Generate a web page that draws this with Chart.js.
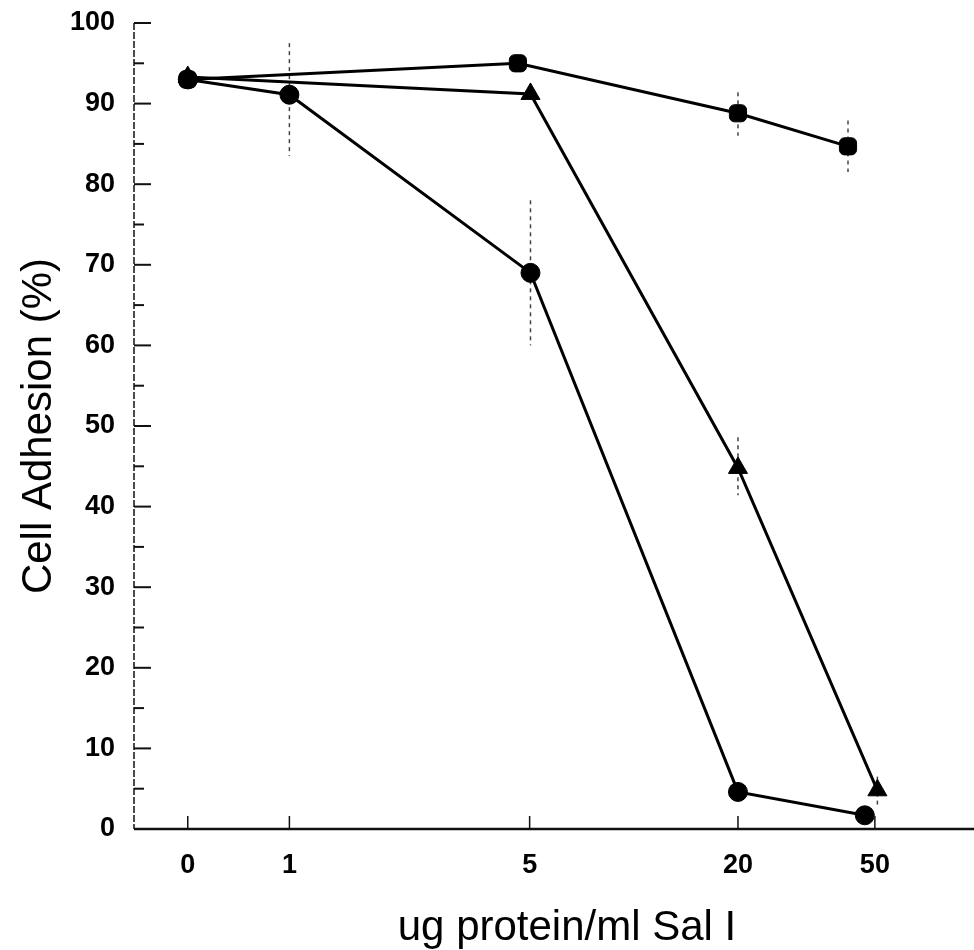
<!DOCTYPE html>
<html>
<head>
<meta charset="utf-8">
<title>Cell Adhesion vs Sal I</title>
<script src="https://cdn.jsdelivr.net/npm/chart.js@4.4.1/dist/chart.umd.min.js"></script>
<style>
    html, body { margin: 0; padding: 0; background: #fff; }
    #wrap { width: 974px; height: 950px; }
</style>
</head>
<body>
<div id="wrap"><canvas id="adhesion" width="974" height="950"></canvas></div>
<script>
// --- DATA ---
// dose labels and where each dose sits along the (hand-spaced) x axis, 0-100
const doseLabels = ['0', '1', '5', '20', '50'];
const doseTickPos = [6.4, 18.5, 47.1, 71.9, 88.2];

// squares: stays high
const squareX = [6.4, 45.7, 71.9, 85.0];
const squareY = [93, 95, 88.8, 84.7];
const squareLo = [null, null, 86, 81.5];
const squareHi = [null, null, 91.4, 87.9];

// triangles: drops after 5 ug/ml
const triangleX = [6.4, 47.2, 71.9, 88.5];
const triangleY = [93.3, 91.2, 44.8, 4.8];
const triangleLo = [null, null, 41.4, 3.0];
const triangleHi = [null, null, 48.6, 6.5];

// circles: drops from 1 ug/ml
const circleX = [6.4, 18.5, 47.2, 71.9, 87.0];
const circleY = [93, 91.1, 69, 4.6, 1.7];
const circleLo = [null, 83.5, 60, null, null];
const circleHi = [null, 97.5, 78, null, null];

const yMajor = 10;
const yMinor = 5;

const FONT = '"Liberation Sans", Arial, sans-serif';
const xTitle = 'ug protein/ml Sal I';

function toPoints(xs, ys) {
    return xs.map((x, i) => ({ x: x, y: ys[i] }));
}

function series(label, xs, ys, lo, hi, style, radius) {
    return {
        label: label,
        data: toPoints(xs, ys),
        errLo: lo,
        errHi: hi,
        showLine: true,
        borderColor: '#000',
        backgroundColor: '#000',
        borderWidth: 3,
        pointStyle: style,
        pointRadius: radius,
        pointBorderWidth: 1,
        pointBorderColor: '#000',
        pointBackgroundColor: '#000',
        tension: 0
    };
}

// ===========================================
// PLUGINS
// ===========================================

// dashed vertical error bars
const errorBars = {
    id: 'errorBars',
    beforeDatasetsDraw(chart) {
        const ctx = chart.ctx;
        const xs = chart.scales.x, ys = chart.scales.y;
        ctx.save();
        ctx.strokeStyle = '#444';
        ctx.lineWidth = 1.5;
        ctx.setLineDash([4, 4]);
        chart.data.datasets.forEach(ds => {
            ds.data.forEach((p, i) => {
                if (ds.errLo[i] == null) return;
                const px = xs.getPixelForValue(p.x);
                ctx.beginPath();
                ctx.moveTo(px, ys.getPixelForValue(ds.errHi[i]));
                ctx.lineTo(px, ys.getPixelForValue(ds.errLo[i]));
                ctx.stroke();
            });
        });
        ctx.restore();
    }
};

// axis lines with inward tick marks, plus the x title
const axisFrame = {
    id: 'axisFrame',
    afterDraw(chart) {
        const ctx = chart.ctx;
        const area = chart.chartArea;
        const xs = chart.scales.x, ys = chart.scales.y;
        ctx.save();
        ctx.strokeStyle = '#111';

        // y axis
        ctx.lineWidth = 1.5;
        ctx.setLineDash([7, 2]);
        ctx.beginPath();
        ctx.moveTo(area.left, area.top);
        ctx.lineTo(area.left, area.bottom);
        ctx.stroke();
        ctx.setLineDash([]);

        ctx.lineWidth = 2;
        for (let v = yMinor; v <= 100; v += yMinor) {
            const py = ys.getPixelForValue(v);
            const len = v % yMajor === 0 ? 17 : 10;
            ctx.beginPath();
            ctx.moveTo(area.left, py);
            ctx.lineTo(area.left + len, py);
            ctx.stroke();
        }

        // x axis
        ctx.lineWidth = 2.5;
        ctx.beginPath();
        ctx.moveTo(area.left, area.bottom);
        ctx.lineTo(area.right, area.bottom);
        ctx.stroke();

        ctx.lineWidth = 1.5;
        doseTickPos.forEach(v => {
            const px = xs.getPixelForValue(v);
            ctx.beginPath();
            ctx.moveTo(px, area.bottom);
            ctx.lineTo(px, area.bottom - 13);
            ctx.stroke();
        });

        // x title
        ctx.fillStyle = '#000';
        ctx.font = '42px ' + FONT;
        ctx.textAlign = 'center';
        ctx.textBaseline = 'alphabetic';
        ctx.fillText(xTitle, 567, 940);
        ctx.restore();
    }
};

// ===========================================
// CHART
// ===========================================

const tickFont = { family: FONT, size: 27, weight: 'bold' };

new Chart(document.getElementById('adhesion').getContext('2d'), {
    type: 'scatter',
    data: {
        datasets: [
            series('squares', squareX, squareY, squareLo, squareHi, 'rectRounded', 10),
            series('triangles', triangleX, triangleY, triangleLo, triangleHi, 'triangle', 11),
            series('circles', circleX, circleY, circleLo, circleHi, 'circle', 9.5)
        ]
    },
    options: {
        responsive: false,
        animation: false,
        layout: { autoPadding: false, padding: { top: 23, right: 0, bottom: 0, left: 0 } },
        plugins: {
            legend: { display: false },
            tooltip: { enabled: false }
        },
        scales: {
            x: {
                type: 'linear',
                min: 0,
                max: 100,
                grid: { display: false, drawTicks: false },
                border: { display: false },
                afterBuildTicks: scale => {
                    scale.ticks = doseTickPos.map(v => ({ value: v }));
                },
                afterFit: scale => {
                    scale.height = 121;
                    scale.paddingLeft = 0;
                    scale.paddingRight = 0;
                },
                ticks: {
                    autoSkip: false,
                    maxRotation: 0,
                    padding: 20,
                    color: '#000',
                    font: tickFont,
                    callback: (v, i) => doseLabels[i]
                }
            },
            y: {
                type: 'linear',
                min: 0,
                max: 100,
                grid: { display: false, drawTicks: false },
                border: { display: false },
                afterFit: scale => {
                    scale.width = 134;
                    scale.paddingTop = 0;
                    scale.paddingBottom = 0;
                },
                ticks: {
                    stepSize: yMajor,
                    padding: 19,
                    color: '#000',
                    font: tickFont
                },
                title: {
                    display: true,
                    text: 'Cell Adhesion (%)',
                    color: '#000',
                    font: { family: FONT, size: 42, lineHeight: 1.1 },
                    padding: { top: 16, bottom: 0 }
                }
            }
        }
    },
    plugins: [errorBars, axisFrame]
});
</script>
</body>
</html>
